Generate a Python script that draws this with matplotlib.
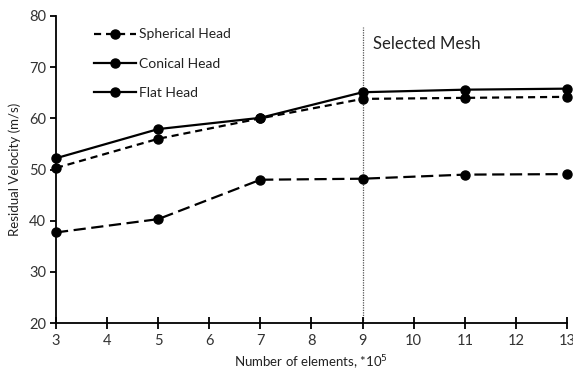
import matplotlib
matplotlib.use("Agg")
import matplotlib.pyplot as plt
from matplotlib.lines import Line2D

# 数据
elements = [3, 5, 7, 9, 11, 13]
spherical = [50.3, 56.0, 60.0, 63.8, 64.0, 64.2]
conical = [52.2, 57.9, 60.1, 65.1, 65.6, 65.8]
flat = [37.7, 40.3, 48.0, 48.2, 49.0, 49.1]
series_labels = ["Spherical Head", "Conical Head", "Flat Head"]
x_ticks = list(range(3, 14))
y_ticks = [20, 30, 40, 50, 60, 70, 80]
selected_x = 9

plt.rcParams["font.family"] = ["Lato", "DejaVu Sans"]

fig = plt.figure(figsize=(5.73, 3.72), dpi=100)
ax = fig.add_axes([0.0977, 0.1317, 0.8918, 0.8253])

lw = 1.6
ms = 6.5
styles = [(0, (3.2, 2.2)), "-", (0, (5.5, 2.5))]
for vals, ls in zip([spherical, conical, flat], styles):
    ax.plot(elements, vals, color="black", linestyle=ls, linewidth=lw,
            marker="o", markersize=ms, clip_on=False, zorder=3)

# 选中网格的竖线
ax.axvline(selected_x, ymin=0, ymax=0.965, color="#555555", linestyle=(0, (1, 1)),
           linewidth=0.9, zorder=1)
ax.text(9.2, 74.6, "Selected Mesh", fontsize=12, color="#222222", va="center", ha="left")

ax.set_xlim(3, 13)
ax.set_ylim(20, 80)
ax.set_xticks(x_ticks)
ax.set_yticks(y_ticks)
ax.spines["top"].set_visible(False)
ax.spines["right"].set_visible(False)
ax.spines["left"].set_linewidth(1.3)
ax.spines["bottom"].set_linewidth(1.3)
ax.tick_params(axis="x", direction="inout", length=8, width=1.3, labelsize=10.5,
               pad=4, labelcolor="#333333")
ax.tick_params(axis="y", direction="out", length=4, width=1.3, labelsize=10.5,
               pad=3, labelcolor="#333333")

ax.set_xlabel("Number of elements, *10$^5$", fontsize=9.5, color="#222222", labelpad=4)
ax.set_ylabel("Residual Velocity (m/s)", fontsize=9.5, color="#222222", labelpad=6)

# 图例句柄（Flat Head 在图例中显示为实线）
handles = [
    Line2D([], [], color="black", linestyle=styles[0], linewidth=lw, marker="o", markersize=ms),
    Line2D([], [], color="black", linestyle="-", linewidth=lw, marker="o", markersize=ms),
    Line2D([], [], color="black", linestyle="-", linewidth=lw, marker="o", markersize=ms),
]
ax.legend(handles, series_labels, loc="upper left", bbox_to_anchor=(0.05, 1.0),
          frameon=False, fontsize=10, handlelength=3.0, labelspacing=1.25,
          handletextpad=0.25, labelcolor="#222222")

fig.savefig("out.png", dpi=100)
